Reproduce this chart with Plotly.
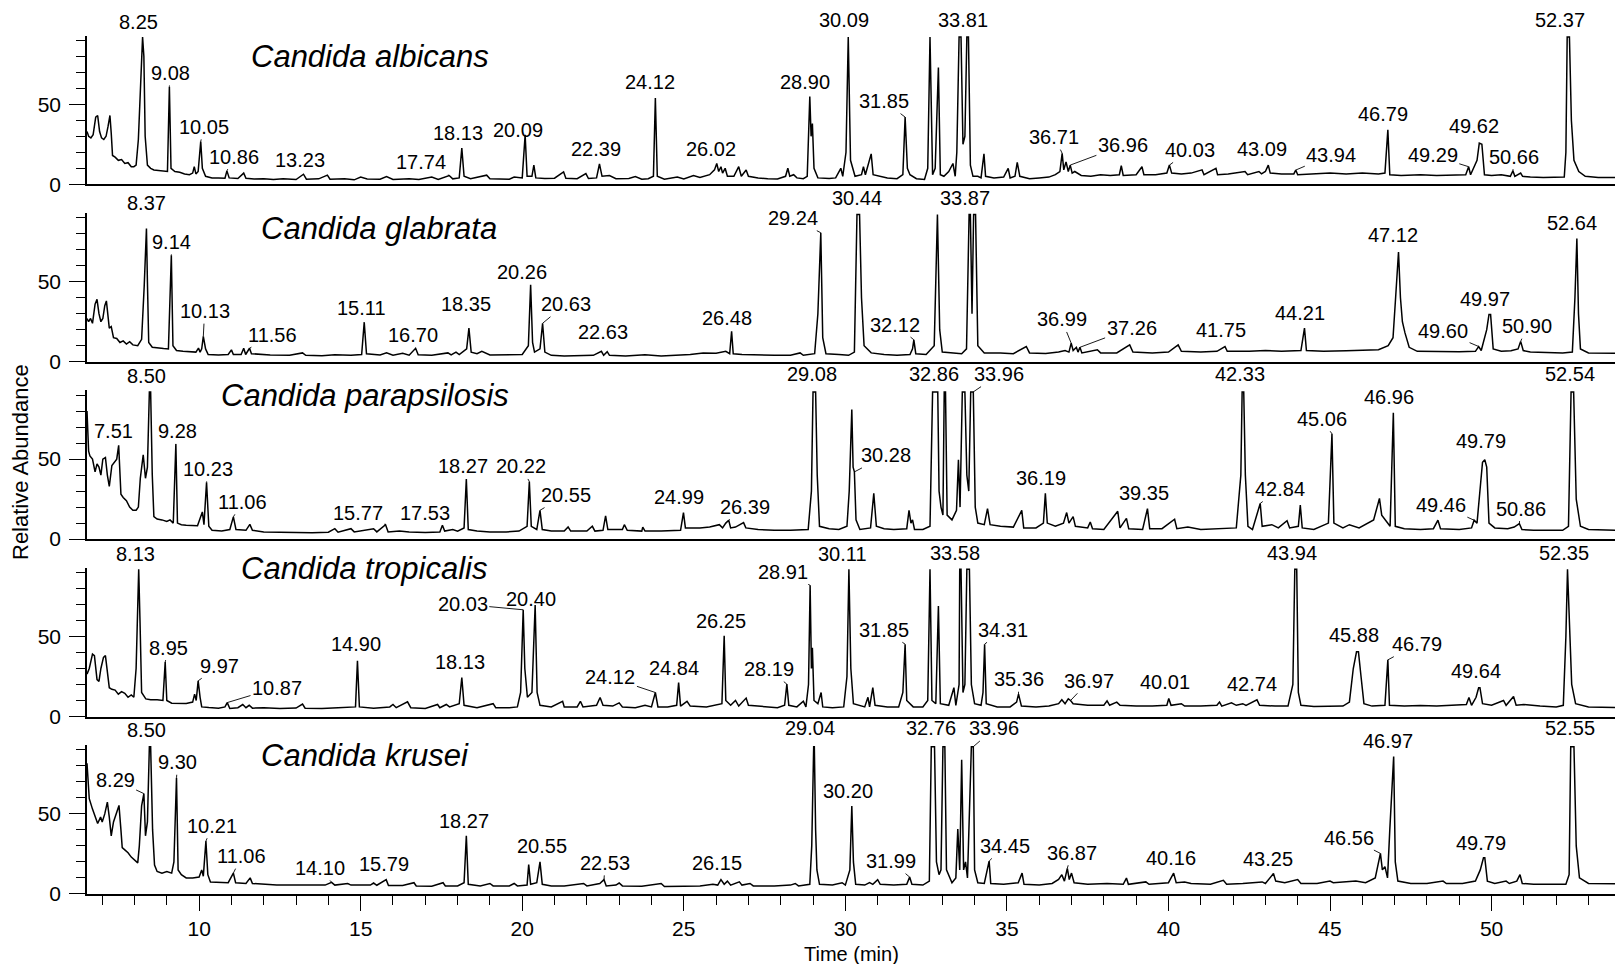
import plotly.graph_objects as go

# ---------------------------------------------------------------------------
# Chromatogram traces: (retention time [min], relative abundance) vertices
# ---------------------------------------------------------------------------
albicans = [
    (6.53, 33), (6.58, 30), (6.65, 29), (6.72, 31), (6.80, 42), (6.86, 43), (6.92, 33), (6.98, 29),
    (7.05, 28), (7.12, 30), (7.18, 36), (7.24, 43), (7.28, 32), (7.32, 18), (7.40, 17), (7.50, 15),
    (7.60, 15.5), (7.70, 13), (7.80, 13.5), (7.90, 11), (7.98, 11), (8.05, 12), (8.12, 28), (8.17, 50),
    (8.22, 80), (8.25, 92), (8.29, 80), (8.33, 30), (8.40, 12), (8.50, 10), (8.60, 9), (8.75, 8.5),
    (8.90, 8), (9.02, 8), (9.08, 61), (9.13, 10), (9.25, 8), (9.40, 7.5), (9.55, 6.5), (9.70, 6),
    (9.80, 7), (9.85, 11), (9.90, 6.5), (9.97, 8), (10.05, 26.8), (10.10, 10), (10.20, 5), (10.40, 4),
    (10.60, 4), (10.80, 3.8), (10.86, 8.4), (10.93, 4), (11.20, 3.6), (11.38, 7), (11.45, 3.8),
    (11.70, 3.3), (12.0, 3.5), (12.3, 3.0), (12.6, 3.4), (13.0, 3.0), (13.23, 6.3), (13.32, 3.2),
    (13.7, 3.4), (13.97, 5.7), (14.05, 3.2), (14.5, 3.5), (14.8, 2.8), (15.0, 4.5), (15.2, 3.3),
    (15.6, 3.2), (15.8, 4.8), (16.0, 3.0), (16.5, 3.4), (16.8, 3.0), (17.2, 4.6), (17.4, 3.0),
    (17.74, 5.5), (17.85, 3.4), (18.05, 4), (18.13, 22.6), (18.2, 5), (18.4, 3.5), (18.9, 5.7),
    (19.0, 3.5), (19.6, 3.2), (19.75, 4.5), (20.0, 4), (20.09, 31), (20.15, 5), (20.30, 5), (20.36, 12),
    (20.42, 4), (20.7, 3.6), (21.0, 3.8), (21.28, 7.8), (21.35, 3.8), (21.7, 3.5), (21.97, 6.7),
    (22.05, 3.6), (22.3, 4), (22.39, 12.7), (22.47, 5), (22.7, 5.5), (22.9, 3.5), (23.3, 3.6),
    (23.5, 4.8), (23.7, 3.2), (23.9, 3.5), (24.06, 5), (24.12, 54), (24.18, 5), (24.4, 3.2), (24.8, 4.5),
    (25.0, 3.3), (25.3, 5.5), (25.5, 4.2), (25.8, 6), (25.95, 9), (26.02, 13), (26.08, 8), (26.15, 11),
    (26.2, 7), (26.28, 10), (26.35, 5), (26.55, 5), (26.70, 11), (26.78, 5), (26.93, 8.9), (27.0, 5),
    (27.3, 4), (27.6, 3.5), (27.9, 3.3), (28.15, 5), (28.22, 10), (28.28, 5), (28.4, 6), (28.5, 4),
    (28.7, 3.5), (28.82, 5), (28.90, 54.9), (28.94, 30), (28.98, 38), (29.03, 10), (29.15, 4),
    (29.5, 3.6), (29.7, 4), (29.86, 10), (29.92, 5), (30.02, 20), (30.09, 92), (30.16, 15), (30.3, 5),
    (30.5, 6), (30.56, 11), (30.62, 6), (30.8, 19), (30.86, 6), (31.1, 5), (31.3, 4), (31.6, 3.5),
    (31.78, 6), (31.85, 42), (31.92, 10), (32.0, 6), (32.2, 3.5), (32.45, 3), (32.55, 10), (32.62, 92),
    (32.70, 6), (32.78, 10), (32.88, 73), (32.94, 6), (33.05, 5), (33.2, 8), (33.33, 13), (33.40, 5),
    (33.45, 20), (33.52, 92), (33.58, 92), (33.64, 25), (33.70, 30), (33.76, 92), (33.81, 92),
    (33.87, 12), (33.95, 5), (34.1, 5), (34.2, 4), (34.29, 19), (34.34, 5), (34.6, 4), (34.9, 4.5),
    (35.04, 10), (35.1, 4), (35.25, 5), (35.32, 13.7), (35.4, 5), (35.7, 3.5), (36.0, 4), (36.3, 4.5),
    (36.5, 6), (36.64, 8), (36.71, 19.4), (36.76, 9), (36.83, 14), (36.90, 8), (36.96, 12), (37.02, 7),
    (37.10, 8), (37.3, 5.5), (37.6, 5), (37.9, 6), (38.2, 5.5), (38.48, 6), (38.54, 11.6), (38.6, 5.5),
    (39.0, 6), (39.18, 11), (39.24, 6), (39.6, 6), (39.95, 7), (40.03, 12), (40.1, 7), (40.4, 6.5),
    (40.7, 7), (41.04, 9), (41.1, 6), (41.47, 10), (41.52, 6), (41.85, 6.5), (42.37, 8), (42.45, 6),
    (42.8, 8), (42.88, 6.5), (43.00, 8), (43.09, 12), (43.15, 7), (43.5, 6.5), (43.88, 6.5),
    (43.94, 8.9), (44.0, 6), (44.5, 6.5), (45.0, 7), (45.5, 6.5), (46.0, 7), (46.5, 6.5), (46.70, 7),
    (46.79, 34), (46.85, 6), (47.2, 5.5), (47.8, 6), (48.3, 5.5), (48.8, 6), (49.2, 6), (49.29, 11),
    (49.35, 6), (49.55, 15), (49.62, 25.7), (49.70, 25), (49.78, 6), (50.0, 5.5), (50.3, 6), (50.58, 5),
    (50.66, 8.4), (50.72, 5), (50.9, 7), (50.96, 5), (51.2, 4.5), (51.6, 4.3), (52.0, 4.2), (52.25, 4.5),
    (52.30, 20), (52.34, 92), (52.37, 92), (52.41, 92), (52.47, 40), (52.55, 15), (52.7, 8), (52.9, 5),
    (53.3, 4.2), (53.82, 4.2),
]

glabrata = [
    (6.53, 27), (6.58, 25), (6.64, 27), (6.70, 24), (6.78, 36), (6.84, 39), (6.90, 30), (6.96, 25),
    (7.02, 27), (7.08, 35), (7.13, 38), (7.18, 30), (7.22, 21), (7.28, 22), (7.35, 15), (7.45, 14.5),
    (7.55, 12), (7.65, 13), (7.75, 11), (7.85, 12.5), (7.95, 10.5), (8.1, 10), (8.22, 14), (8.30, 47),
    (8.33, 60), (8.37, 83.3), (8.40, 50), (8.44, 12), (8.55, 9), (8.7, 8.5), (8.9, 8.2), (9.05, 8),
    (9.14, 66.5), (9.19, 10), (9.3, 7), (9.5, 6.5), (9.7, 6.3), (9.9, 6), (9.98, 8.5), (10.03, 6),
    (10.08, 8), (10.13, 15.8), (10.2, 8), (10.28, 4.5), (10.6, 4.2), (10.9, 4.5), (11.0, 7.4),
    (11.06, 4.5), (11.3, 4.5), (11.38, 8.4), (11.44, 4.5), (11.56, 8.4), (11.62, 5), (11.9, 4.5),
    (12.2, 4.2), (12.8, 4), (13.2, 5.5), (13.3, 4), (13.8, 3.7), (14.2, 4.3), (14.7, 4.0), (15.03, 4.5),
    (15.11, 24.7), (15.18, 5), (15.6, 4.2), (15.8, 5.5), (16.0, 4), (16.3, 5.2), (16.5, 4.1),
    (16.70, 8.4), (16.78, 4.3), (17.2, 4.0), (17.7, 5.5), (17.8, 4.2), (17.95, 6), (18.05, 4.5),
    (18.28, 8), (18.35, 21), (18.42, 6), (18.6, 5), (18.75, 6.5), (19.0, 4.2), (19.5, 4.2), (20.0, 4.5),
    (20.19, 10), (20.26, 48), (20.32, 12), (20.38, 6), (20.55, 8), (20.63, 24), (20.70, 6), (20.9, 4),
    (21.3, 3.5), (21.8, 3.6), (22.2, 4), (22.45, 6.5), (22.52, 4), (22.63, 6.3), (22.7, 4), (23.2, 3.5),
    (23.8, 4.3), (24.3, 3.6), (24.8, 4), (25.2, 4.5), (25.6, 5.5), (26.0, 5.3), (26.3, 6.5), (26.42, 5),
    (26.48, 19), (26.53, 5), (26.8, 4.5), (27.2, 4.2), (27.8, 4), (28.3, 4), (28.6, 5.5), (28.7, 4),
    (29.05, 5), (29.15, 30), (29.24, 80.6), (29.3, 15), (29.4, 5), (29.8, 4.5), (30.1, 4.0), (30.28, 6),
    (30.36, 92), (30.44, 92), (30.5, 40), (30.58, 10), (30.8, 5.5), (31.2, 4.5), (31.6, 4.0), (32.0, 4.5),
    (32.08, 8), (32.12, 13.7), (32.18, 5), (32.5, 4.5), (32.75, 10), (32.85, 92), (32.92, 20), (33.0, 6),
    (33.3, 5.5), (33.6, 5), (33.75, 8), (33.83, 92), (33.87, 92), (33.92, 30), (33.97, 92), (34.03, 92),
    (34.10, 10), (34.3, 5.5), (34.8, 5.5), (35.2, 5), (35.6, 9.5), (35.7, 5.5), (36.2, 5.2), (36.6, 6),
    (36.8, 7), (36.92, 6), (36.99, 11.6), (37.05, 7), (37.15, 9), (37.20, 6), (37.26, 9), (37.32, 5.5),
    (37.8, 7.5), (37.9, 5.5), (38.4, 5.5), (38.8, 10.5), (38.9, 6), (39.5, 5.5), (40.0, 6), (40.3, 10.5),
    (40.4, 6.5), (41.0, 6), (41.5, 6.5), (41.75, 9.5), (41.82, 6.5), (42.5, 6.5), (43.0, 7), (43.5, 6.5),
    (44.1, 7), (44.21, 21), (44.27, 7), (44.8, 6.5), (45.5, 6.8), (46.0, 7), (46.5, 7.5), (46.8, 10),
    (46.95, 15), (47.03, 40), (47.12, 68.6), (47.18, 40), (47.24, 25), (47.32, 18), (47.45, 9),
    (47.7, 6.5), (48.3, 6.3), (49.0, 6.2), (49.5, 6.5), (49.60, 9.5), (49.68, 7), (49.85, 20),
    (49.92, 29.5), (49.97, 29.5), (50.05, 8), (50.3, 6.5), (50.6, 6.8), (50.82, 8), (50.90, 12.7),
    (50.98, 7), (51.2, 6), (51.8, 5.5), (52.2, 5.5), (52.5, 6), (52.58, 40), (52.64, 77), (52.69, 30),
    (52.75, 8), (53.0, 5.5), (53.82, 5.3),
]

parapsilosis = [
    (6.53, 80), (6.55, 68), (6.58, 55), (6.62, 52), (6.70, 50), (6.78, 42), (6.84, 47), (6.90, 45),
    (6.96, 40), (7.02, 50), (7.10, 51), (7.16, 40), (7.22, 33), (7.30, 46), (7.38, 48), (7.45, 50),
    (7.51, 58.6), (7.55, 45), (7.58, 28), (7.65, 26), (7.75, 24), (7.85, 20), (7.95, 18), (8.05, 18),
    (8.12, 20), (8.18, 38), (8.27, 52.7), (8.34, 38), (8.40, 45), (8.46, 92), (8.50, 92), (8.55, 40),
    (8.60, 14), (8.7, 12.5), (8.85, 12), (9.0, 11), (9.1, 12), (9.2, 10), (9.28, 59.5), (9.33, 10),
    (9.45, 9), (9.6, 8.6), (9.8, 8.5), (9.95, 8.3), (10.10, 17), (10.15, 9), (10.23, 35.5), (10.3, 8),
    (10.4, 5.5), (10.7, 5), (10.95, 6), (11.06, 13.9), (11.14, 6), (11.45, 5.5), (11.57, 9.2),
    (11.65, 5.5), (12.0, 4.5), (12.5, 4.2), (13.0, 4.3), (13.5, 4), (14.0, 4.3), (14.2, 6.5), (14.3, 4.3),
    (14.7, 6.5), (14.8, 4.5), (15.4, 6.5), (15.5, 4.5), (15.77, 9), (15.85, 4.5), (16.2, 5), (16.5, 4.5),
    (17.0, 4.2), (17.45, 4.5), (17.53, 8.6), (17.6, 5), (17.85, 6), (18.0, 5), (18.2, 7), (18.27, 37.6),
    (18.33, 6), (18.6, 5), (19.0, 4.5), (19.5, 4.5), (19.9, 5), (20.15, 8), (20.22, 36), (20.28, 8),
    (20.45, 6), (20.55, 18), (20.62, 6), (20.9, 5), (21.3, 5), (21.42, 7.6), (21.5, 5), (22.0, 5),
    (22.17, 8), (22.25, 5), (22.5, 5.5), (22.58, 14.5), (22.65, 6), (23.1, 6), (23.16, 9), (23.25, 5.5),
    (23.7, 5), (23.73, 7.5), (23.8, 5), (24.3, 5), (24.9, 5.5), (24.99, 16.6), (25.05, 7), (25.5, 7),
    (25.8, 7.5), (26.1, 9), (26.2, 7), (26.3, 10), (26.39, 11.8), (26.45, 7), (26.6, 7.5), (26.85, 10.3),
    (26.92, 7), (27.3, 6), (27.8, 5.5), (28.3, 5.5), (28.6, 6), (28.85, 6), (28.95, 30), (29.00, 92),
    (29.08, 92), (29.13, 40), (29.2, 8), (29.5, 6.5), (29.8, 6), (30.05, 8), (30.12, 30), (30.20, 81),
    (30.24, 45), (30.28, 42), (30.33, 12), (30.45, 6), (30.78, 7), (30.88, 28.6), (30.96, 8),
    (31.2, 6.5), (31.5, 6), (31.9, 6.5), (31.97, 18), (32.03, 10), (32.08, 12), (32.14, 6), (32.4, 6),
    (32.62, 8), (32.70, 92), (32.86, 92), (32.90, 30), (32.96, 20), (33.02, 15), (33.06, 92),
    (33.10, 92), (33.15, 15), (33.3, 12), (33.44, 18), (33.50, 49.6), (33.55, 20), (33.62, 92),
    (33.70, 92), (33.76, 40), (33.82, 30), (33.88, 92), (33.96, 92), (34.02, 20), (34.1, 10), (34.3, 9),
    (34.4, 19), (34.48, 9), (34.8, 8), (35.2, 7.5), (35.46, 18), (35.52, 7), (35.9, 7), (36.13, 10),
    (36.19, 28.6), (36.25, 10), (36.5, 8), (36.75, 10), (36.85, 16.6), (36.92, 10), (37.05, 14),
    (37.12, 8), (37.5, 7), (37.58, 10.7), (37.65, 6.5), (38.0, 6), (38.43, 17.4), (38.5, 7), (38.7, 13),
    (38.77, 6.5), (39.2, 6), (39.35, 19), (39.42, 6.5), (39.8, 6.5), (40.19, 12.4), (40.26, 6.5),
    (40.6, 7.5), (41.0, 6), (41.6, 6.5), (42.1, 7), (42.24, 40), (42.28, 92), (42.33, 92), (42.38, 40),
    (42.46, 8), (42.6, 6), (42.84, 22.3), (42.9, 8), (43.2, 9), (43.4, 7), (43.67, 11.5), (43.75, 7),
    (44.02, 8), (44.08, 21.2), (44.14, 7), (44.5, 6), (44.95, 10), (45.06, 65.8), (45.12, 10),
    (45.4, 7), (45.6, 9), (45.9, 7), (46.35, 12), (46.53, 25.4), (46.6, 15), (46.7, 12), (46.86, 8),
    (46.96, 79), (47.02, 8), (47.3, 6.5), (47.8, 6), (48.2, 6.5), (48.34, 11.8), (48.42, 6.5),
    (49.0, 6), (49.38, 7), (49.46, 11.8), (49.55, 10), (49.65, 30), (49.72, 48), (49.79, 49.6),
    (49.85, 45), (49.92, 10), (50.1, 7), (50.5, 6.5), (50.7, 7.5), (50.86, 9.7), (50.94, 6),
    (51.3, 5.5), (51.8, 5.5), (52.2, 5.5), (52.38, 8), (52.46, 92), (52.54, 92), (52.62, 25),
    (52.75, 8), (53.0, 6), (53.82, 5.5),
]

tropicalis = [
    (6.53, 26.5), (6.60, 30), (6.70, 39), (6.76, 38), (6.84, 23), (6.90, 22), (6.96, 30), (7.04, 37),
    (7.10, 38), (7.16, 27), (7.22, 18), (7.30, 17), (7.40, 16.5), (7.50, 14), (7.60, 15.5), (7.70, 14.5),
    (7.80, 12), (7.90, 13.5), (7.98, 12), (8.05, 30), (8.09, 65), (8.13, 92), (8.17, 60), (8.22, 15),
    (8.35, 11), (8.5, 10.5), (8.7, 10.4), (8.88, 10), (8.95, 34), (9.0, 10), (9.15, 8.3), (9.4, 8),
    (9.6, 8.2), (9.8, 9), (9.86, 14), (9.91, 10), (9.97, 22.3), (10.03, 12), (10.08, 6), (10.3, 5.6),
    (10.6, 5.2), (10.8, 6), (10.87, 8.7), (10.95, 5), (11.2, 5.5), (11.35, 7.5), (11.45, 5.5),
    (11.55, 7), (11.65, 5.2), (12.0, 5.5), (12.5, 5), (13.0, 5.3), (13.2, 7.8), (13.28, 5.2), (13.8, 5),
    (14.3, 5.5), (14.6, 5.8), (14.84, 6), (14.90, 34.8), (14.96, 6), (15.4, 5.2), (15.9, 6), (16.0, 7.5),
    (16.1, 5.5), (16.45, 9.2), (16.55, 5.5), (17.0, 5), (17.38, 7.5), (17.45, 5.5), (17.65, 7.5),
    (17.75, 6), (17.9, 7), (18.05, 8), (18.13, 24.4), (18.2, 7), (18.6, 5.5), (19.1, 8), (19.18, 5.5),
    (19.6, 5.5), (19.85, 6), (19.95, 15), (20.03, 66.7), (20.08, 30), (20.16, 12), (20.30, 15),
    (20.40, 69.6), (20.46, 15), (20.55, 7), (20.9, 6), (21.25, 9.5), (21.3, 6), (21.7, 6), (21.8, 9.5),
    (21.88, 6), (22.3, 7), (22.41, 11.9), (22.5, 7), (22.8, 6.5), (23.0, 8.5), (23.1, 6), (23.5, 5.5),
    (23.8, 7), (24.0, 6), (24.12, 15), (24.2, 6), (24.5, 6), (24.78, 7), (24.84, 21.2), (24.9, 6.5),
    (25.1, 9.5), (25.2, 6.5), (25.7, 6), (26.0, 7), (26.18, 8), (26.25, 50.4), (26.3, 10), (26.45, 7),
    (26.6, 10), (26.7, 6.5), (26.93, 11.5), (27.0, 7), (27.5, 6), (27.9, 5.5), (28.12, 7), (28.19, 20.2),
    (28.25, 7), (28.5, 6), (28.7, 9.5), (28.78, 6), (28.86, 20), (28.91, 82), (28.95, 30), (28.98, 43),
    (29.03, 10), (29.15, 8), (29.25, 15), (29.3, 6), (29.6, 5.5), (29.95, 6), (30.05, 25), (30.11, 92),
    (30.17, 30), (30.25, 8), (30.6, 6), (30.7, 12), (30.75, 6), (30.85, 18), (30.92, 7), (31.3, 6),
    (31.65, 6), (31.78, 15), (31.85, 45.2), (31.9, 10), (32.1, 6), (32.4, 6), (32.55, 10), (32.62, 92),
    (32.68, 10), (32.8, 8), (32.88, 69), (32.94, 8), (33.2, 7), (33.36, 18), (33.42, 7), (33.52, 20),
    (33.54, 92), (33.58, 92), (33.64, 15), (33.70, 20), (33.76, 92), (33.84, 92), (33.9, 20), (34.0, 8),
    (34.2, 7), (34.26, 15), (34.31, 45.2), (34.36, 8), (34.7, 6), (35.1, 6), (35.3, 9), (35.36, 14),
    (35.45, 6.5), (35.9, 6), (36.3, 6.5), (36.6, 8), (36.7, 10.5), (36.8, 8), (36.9, 11), (36.97, 10),
    (37.05, 8), (37.5, 7), (38.0, 7), (38.1, 9.8), (38.18, 7), (38.4, 9), (38.5, 7), (39.0, 6.5),
    (39.5, 6.5), (39.95, 7), (40.01, 11.2), (40.08, 7), (40.4, 8), (40.5, 6.5), (41.0, 6.5), (41.5, 7),
    (41.58, 9), (41.65, 6.5), (41.95, 8.5), (42.1, 7), (42.3, 8), (42.4, 7), (42.74, 10.4), (42.82, 7),
    (43.3, 6.5), (43.7, 6.5), (43.85, 20), (43.91, 92), (43.94, 92), (43.97, 92), (44.02, 15),
    (44.1, 7), (44.5, 6.3), (45.0, 6.5), (45.4, 6.5), (45.6, 9), (45.72, 30), (45.82, 40.4),
    (45.88, 40.4), (45.96, 25), (46.05, 8), (46.3, 6.5), (46.7, 7), (46.79, 35.4), (46.84, 7),
    (47.3, 6.5), (47.8, 6.8), (48.3, 6.5), (48.8, 7), (49.22, 7.5), (49.3, 11.9), (49.38, 7),
    (49.52, 12), (49.60, 18), (49.64, 18), (49.72, 8), (50.0, 7), (50.37, 10), (50.45, 7),
    (50.68, 12.5), (50.76, 7), (51.0, 7.5), (51.5, 6.5), (52.0, 6), (52.22, 7), (52.30, 50),
    (52.35, 92), (52.40, 60), (52.48, 20), (52.6, 8), (53.0, 6), (53.82, 5.6),
]

krusei = [
    (6.53, 81.6), (6.56, 70), (6.60, 59.5), (6.70, 53), (6.80, 47), (6.86, 44), (6.95, 48), (7.00, 45),
    (7.08, 50), (7.16, 57.4), (7.22, 48), (7.28, 36.3), (7.35, 45), (7.45, 52), (7.52, 55.3), (7.58, 40),
    (7.62, 28.9), (7.70, 27.5), (7.80, 25.7), (7.90, 23), (8.00, 21), (8.10, 19.4), (8.15, 30),
    (8.22, 55), (8.29, 62.7), (8.34, 36.3), (8.40, 45), (8.46, 92), (8.50, 92), (8.56, 40), (8.62, 18),
    (8.7, 14), (8.85, 13), (9.0, 14), (9.15, 13), (9.22, 20), (9.30, 72.6), (9.35, 15), (9.45, 12),
    (9.6, 10), (9.8, 10), (10.0, 10.5), (10.08, 15), (10.13, 11), (10.21, 33), (10.27, 12), (10.35, 7.5),
    (10.6, 7.2), (10.9, 7), (11.06, 13), (11.13, 7), (11.45, 6.5), (11.58, 10), (11.65, 6.5), (12.0, 6),
    (12.4, 5.5), (13.0, 5.5), (13.5, 5.3), (13.9, 5.5), (14.10, 7.2), (14.2, 5.5), (14.6, 6.5),
    (14.7, 5.5), (15.3, 5.5), (15.4, 6.8), (15.5, 5.4), (15.79, 8.9), (15.86, 5.3), (16.3, 5.2),
    (16.65, 7), (16.72, 5), (17.2, 4.8), (17.55, 7), (17.62, 5), (18.0, 5), (18.2, 7), (18.27, 36.3),
    (18.33, 6), (18.7, 5), (19.0, 6.5), (19.1, 5), (19.6, 5), (19.75, 6.5), (19.85, 5), (20.15, 5.5),
    (20.20, 18.4), (20.26, 6), (20.45, 7), (20.55, 20), (20.62, 6), (20.9, 5), (21.3, 5), (21.9, 6.5),
    (22.0, 5), (22.4, 6.5), (22.53, 8.9), (22.6, 5), (22.9, 5.5), (23.0, 6.8), (23.1, 5), (23.7, 4.8),
    (24.3, 6.5), (24.4, 4.6), (25.0, 4.8), (25.5, 5), (25.9, 6), (26.05, 5.5), (26.15, 8.9), (26.25, 6),
    (26.35, 8), (26.45, 5.5), (26.72, 7.5), (26.8, 5.5), (27.05, 6.5), (27.15, 5), (27.8, 5), (28.3, 5.5),
    (28.45, 6.5), (28.55, 5), (28.9, 6), (28.96, 30), (29.02, 92), (29.04, 92), (29.08, 40), (29.12, 15),
    (29.2, 6), (29.6, 5.5), (29.9, 7), (30.0, 5.5), (30.14, 15), (30.20, 54.9), (30.25, 20), (30.32, 6),
    (30.6, 5.5), (30.75, 7), (30.85, 6), (31.0, 8.9), (31.08, 6), (31.5, 5.5), (31.9, 6), (31.99, 10.5),
    (32.06, 6), (32.4, 5.5), (32.6, 8), (32.66, 92), (32.76, 92), (32.82, 20), (32.90, 12), (32.96, 15),
    (33.02, 92), (33.08, 92), (33.13, 15), (33.3, 7), (33.42, 10), (33.48, 40.5), (33.54, 15),
    (33.60, 83.8), (33.66, 15), (33.72, 20), (33.78, 10), (33.90, 92), (33.96, 92), (34.0, 15),
    (34.1, 7), (34.3, 6.5), (34.45, 20.5), (34.5, 6.5), (34.9, 6), (35.35, 7), (35.47, 13), (35.53, 6),
    (36.0, 5.5), (36.4, 6.5), (36.6, 9), (36.7, 12), (36.78, 8), (36.87, 16), (36.93, 9), (37.0, 13),
    (37.08, 7), (37.5, 6), (38.1, 6.5), (38.6, 6), (38.7, 9.9), (38.76, 6), (39.3, 7.5), (39.4, 6),
    (40.0, 7), (40.16, 13), (40.24, 7), (40.5, 7.5), (40.7, 6.5), (41.3, 6), (41.7, 8.5), (41.8, 6),
    (42.3, 6.5), (42.9, 7.5), (43.0, 6.5), (43.25, 12.7), (43.32, 8), (43.6, 7), (44.0, 9), (44.1, 6.5),
    (44.6, 6.5), (45.0, 8), (45.1, 7), (45.5, 7.5), (45.8, 8), (46.1, 7), (46.4, 10), (46.56, 25.3),
    (46.62, 15), (46.70, 17), (46.78, 10), (46.85, 40), (46.97, 85.9), (47.02, 20), (47.1, 8),
    (47.5, 6.5), (48.0, 6.5), (48.5, 8), (48.6, 6.5), (49.1, 6.5), (49.5, 8), (49.65, 15), (49.75, 22.6),
    (49.79, 22.6), (49.87, 8), (50.1, 6.5), (50.45, 8), (50.55, 6.5), (50.78, 8), (50.88, 12),
    (50.95, 6.5), (51.3, 6), (51.8, 6), (52.3, 6), (52.40, 12), (52.45, 92), (52.55, 92), (52.62, 30),
    (52.72, 10), (53.0, 6.5), (53.82, 6.3),
]

# ---------------------------------------------------------------------------
# Labelled retention times (min)
# ---------------------------------------------------------------------------
albicans_rt = [8.25, 9.08, 10.05, 10.86, 13.23, 17.74, 18.13, 20.09, 22.39, 24.12, 26.02, 28.90,
               30.09, 31.85, 33.81, 36.71, 36.96, 40.03, 43.09, 43.94, 46.79, 49.29, 49.62, 50.66, 52.37]
glabrata_rt = [8.37, 9.14, 10.13, 11.56, 15.11, 16.70, 18.35, 20.26, 20.63, 22.63, 26.48, 29.24,
               30.44, 32.12, 33.87, 36.99, 37.26, 41.75, 44.21, 47.12, 49.60, 49.97, 50.90, 52.64]
parapsilosis_rt = [7.51, 8.50, 9.28, 10.23, 11.06, 15.77, 17.53, 18.27, 20.22, 20.55, 24.99, 26.39,
                   29.08, 30.28, 32.86, 33.96, 36.19, 39.35, 42.33, 42.84, 45.06, 46.96, 49.46, 49.79,
                   50.86, 52.54]
tropicalis_rt = [8.13, 8.95, 9.97, 10.87, 14.90, 18.13, 20.03, 20.40, 24.12, 24.84, 26.25, 28.19,
                 28.91, 30.11, 31.85, 33.58, 34.31, 35.36, 36.97, 40.01, 42.74, 43.94, 45.88, 46.79,
                 49.64, 52.35]
krusei_rt = [8.29, 8.50, 9.30, 10.21, 11.06, 14.10, 15.79, 18.27, 20.55, 22.53, 26.15, 29.04, 30.20,
             31.99, 32.76, 33.96, 34.45, 36.87, 40.16, 43.25, 46.56, 46.97, 49.79, 52.55]

# ---------------------------------------------------------------------------
# Label placement: text centre (min, abundance units) and leader-line flag
# ---------------------------------------------------------------------------
albicans_pos = [(8.12, 101.3, 0), (9.10, 69.6, 1), (10.15, 35.9, 1), (11.08, 17.3, 1), (13.13, 15.2, 0),
                (16.88, 13.7, 1), (18.00, 32, 0), (19.87, 34, 0), (22.28, 22.2, 0), (23.95, 64, 0),
                (25.85, 22.2, 0), (28.75, 64, 0), (29.97, 102.7, 0), (31.20, 52, 1), (33.65, 102.7, 0),
                (36.47, 29.5, 1), (38.59, 24.3, 1), (40.67, 21.5, 1), (42.90, 22.2, 0), (45.04, 18.4, 1),
                (46.64, 43.7, 0), (48.18, 18, 1), (49.46, 36.3, 0), (50.70, 17.3, 1), (52.12, 102.7, 0)]
glabrata_pos = [(8.36, 99.2, 0), (9.16, 74.9, 1), (10.17, 31.6, 1), (12.28, 16.9, 1), (15.02, 33.8, 0),
                (16.62, 16.9, 0), (18.25, 35.9, 0), (20.00, 55.9, 0), (21.34, 35.9, 1), (22.51, 18.6, 0),
                (26.35, 27.4, 0), (28.37, 89.7, 1), (30.35, 102.3, 0), (31.54, 23.2, 1), (33.70, 102.3, 0),
                (36.69, 26.4, 1), (38.86, 21.1, 1), (41.63, 20, 0), (44.06, 30.6, 0), (46.95, 79.1, 0),
                (48.50, 19, 1), (49.81, 39, 0), (51.11, 22.2, 1), (52.50, 86.5, 0)]
parapsilosis_pos = [(7.35, 67.4, 0), (8.38, 102.1, 0), (9.32, 67.4, 1), (10.28, 43.9, 1), (11.34, 23.3, 1),
                    (14.91, 16.6, 1), (16.99, 16.6, 1), (18.16, 46, 0), (19.96, 45.4, 1), (21.34, 27.5, 1),
                    (24.86, 26.5, 0), (26.88, 20.2, 1), (28.96, 103.1, 0), (31.25, 52.3, 1), (32.75, 103.1, 0),
                    (34.77, 103.1, 1), (36.05, 38, 0), (39.23, 28.6, 0), (42.21, 103.1, 0), (43.44, 31.3, 1),
                    (44.74, 75.2, 1), (46.83, 88.9, 0), (48.43, 21.2, 1), (49.67, 61.1, 0), (50.90, 19.1, 1),
                    (52.44, 103.1, 0)]
tropicalis_pos = [(8.04, 101.5, 0), (9.05, 43.1, 1), (10.63, 31.7, 1), (12.41, 18.1, 1), (14.86, 45.2, 0),
                  (18.06, 33.8, 0), (18.16, 70.2, 1), (20.28, 73.3, 0), (22.73, 24.4, 1), (24.70, 30.6, 0),
                  (26.14, 59.8, 0), (27.63, 29.6, 1), (28.06, 90.4, 1), (29.92, 101.5, 0), (31.20, 54.2, 1),
                  (33.38, 101.9, 0), (34.88, 54.2, 1), (35.36, 23.3, 1), (37.55, 22.3, 1), (39.90, 21.7, 0),
                  (42.59, 20.2, 0), (43.81, 101.9, 0), (45.73, 50.8, 0), (47.70, 45.2, 1), (49.51, 28.5, 0),
                  (52.23, 101.9, 0)]
krusei_pos = [(7.40, 71.1, 1), (8.38, 102.7, 0), (9.34, 82.3, 1), (10.41, 42.6, 1), (11.32, 23.6, 1),
              (13.74, 16.2, 1), (15.71, 18.4, 0), (18.19, 45.8, 0), (20.62, 30, 0), (22.57, 19.4, 1),
              (26.03, 19.4, 0), (28.91, 103.4, 0), (30.08, 64.1, 0), (31.41, 20.5, 1), (32.64, 103.4, 0),
              (34.61, 103.4, 1), (34.93, 30, 1), (37.01, 25.7, 1), (40.08, 22.6, 0), (43.09, 21.9, 0),
              (45.60, 35.2, 1), (46.80, 95.8, 0), (49.67, 32.1, 0), (52.44, 103.4, 0)]

species = ["Candida albicans", "Candida glabrata", "Candida parapsilosis",
           "Candida tropicalis", "Candida krusei"]

# ---------------------------------------------------------------------------
# Page geometry (pixels)
# ---------------------------------------------------------------------------
W, H = 1615, 964
LEFT = 87
T_MIN, T_MAX = 6.53, 53.82
Y_MAX = 93
PX_PER_UNIT = 1.6
ZERO_PX = [184.3 + 177.4 * k for k in range(5)]
TITLE_PX = [(370, 56), (378.5, 228), (364.5, 395), (364, 568), (364.5, 755)]
FONT = "Liberation Sans, Arial, Helvetica, sans-serif"


def px_to_paper(px, py):
    return (px - LEFT) / (W - LEFT), 1 - py / H


panels = [
    (albicans, albicans_rt, albicans_pos),
    (glabrata, glabrata_rt, glabrata_pos),
    (parapsilosis, parapsilosis_rt, parapsilosis_pos),
    (tropicalis, tropicalis_rt, tropicalis_pos),
    (krusei, krusei_rt, krusei_pos),
]

fig = go.Figure()
annotations = []
layout_axes = {}

for i, (trace, rts, pos) in enumerate(panels):
    n = i + 1
    xa = "x" if n == 1 else f"x{n}"
    ya = "y" if n == 1 else f"y{n}"
    t_vals = [p[0] for p in trace]
    a_vals = [p[1] for p in trace]
    fig.add_trace(go.Scatter(
        x=t_vals, y=a_vals, mode="lines", xaxis=xa, yaxis=ya,
        line=dict(color="black", width=1.5), hoverinfo="skip", showlegend=False,
    ))

    zero = ZERO_PX[i]
    top = zero - Y_MAX * PX_PER_UNIT
    bottom_axis = n == 5
    layout_axes[f"xaxis{n}"] = dict(
        domain=[0, 1], range=[T_MIN, T_MAX], anchor=ya, automargin=False,
        showline=True, linecolor="black", linewidth=1.5,
        showgrid=False, zeroline=False,
        ticks="outside" if bottom_axis else "", tick0=0, dtick=5,
        ticklen=15, tickwidth=1.3, tickcolor="black",
        showticklabels=bottom_axis,
        tickfont=dict(family=FONT, size=21, color="black"),
        minor=dict(ticks="outside" if bottom_axis else "", dtick=1, tick0=0, ticklen=9,
                   tickwidth=1.2, tickcolor="black", showgrid=False),
    )
    layout_axes[f"yaxis{n}"] = dict(
        domain=[1 - zero / H, 1 - top / H], range=[0, Y_MAX], anchor=xa, automargin=False,
        showline=True, linecolor="black", linewidth=1.5,
        showgrid=False, zeroline=False,
        ticks="outside", tick0=0, dtick=50, ticklen=16, tickwidth=1.3, tickcolor="black",
        tickfont=dict(family=FONT, size=21, color="black"), ticklabelstandoff=4,
        minor=dict(ticks="outside", dtick=10, tick0=0, ticklen=9, tickwidth=1.2,
                   tickcolor="black", showgrid=False),
    )

    # species name
    tx, ty = px_to_paper(*TITLE_PX[i])
    annotations.append(dict(
        x=tx, y=ty, xref="paper", yref="paper", text=f"<i>{species[i]}</i>",
        showarrow=False, xanchor="center", yanchor="middle",
        font=dict(family=FONT, size=31, color="black"),
    ))

    # retention-time labels, each pointing at its peak apex
    for rt, (lx, ly, lead) in zip(rts, pos):
        apex = max(a for t, a in trace if abs(t - rt) < 1e-6)
        annotations.append(dict(
            x=rt, y=apex, xref=xa, yref=ya,
            ax=lx, ay=ly, axref=xa, ayref=ya,
            text=f"{rt:.2f}", showarrow=True, arrowhead=0, arrowwidth=0.9,
            arrowcolor="black" if lead else "rgba(0,0,0,0)", standoff=0, startstandoff=0,
            xanchor="center", yanchor="middle",
            font=dict(family=FONT, size=20, color="black"),
        ))

# axis titles
rx, ry = px_to_paper(20, 462)
annotations.append(dict(
    x=rx, y=ry, xref="paper", yref="paper", text="Relative Abundance", textangle=-90,
    showarrow=False, xanchor="center", yanchor="middle",
    font=dict(family=FONT, size=22, color="black"),
))
bx, by = px_to_paper(851, 954)
annotations.append(dict(
    x=bx, y=by, xref="paper", yref="paper", text="Time (min)",
    showarrow=False, xanchor="center", yanchor="middle",
    font=dict(family=FONT, size=20, color="black"),
))

fig.update_layout(
    width=W, height=H,
    margin=dict(l=LEFT, r=0, t=0, b=0, autoexpand=False),
    paper_bgcolor="white", plot_bgcolor="white",
    annotations=annotations,
    showlegend=False,
    **layout_axes,
)

fig.write_html("out.html")
